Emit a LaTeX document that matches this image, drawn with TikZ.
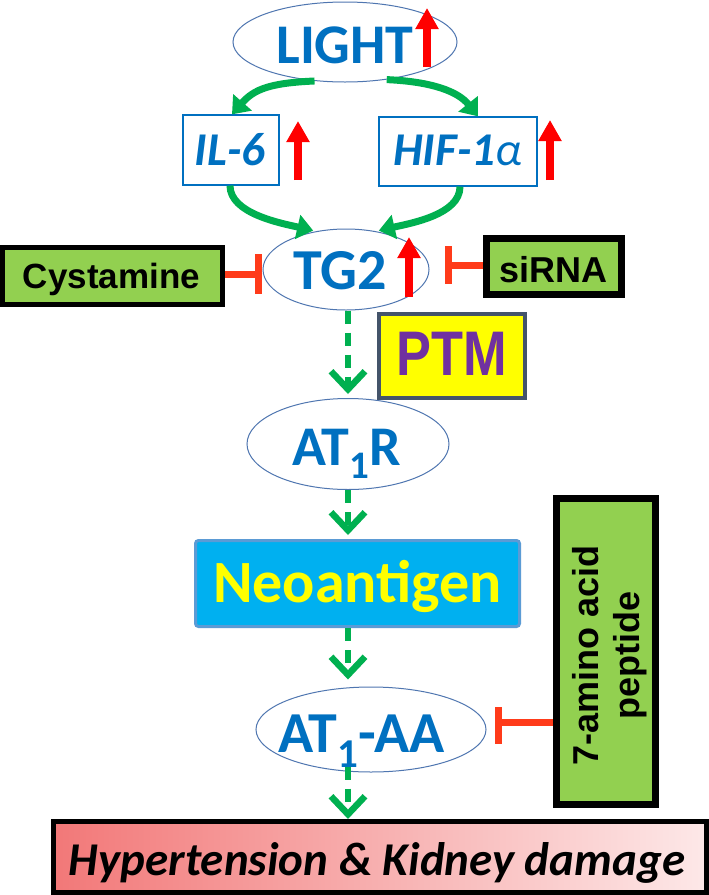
\documentclass[tikz,border=0pt]{standalone}
\usepackage{fontspec}
\newfontfamily\calfont{Carlito}
\newfontfamily\arfont{Liberation Sans}
\newfontfamily\arnfont[FakeStretch=0.83]{Liberation Sans}
\usetikzlibrary{arrows.meta,shapes.geometric,calc}
\definecolor{tblue}{HTML}{0070C0}
\definecolor{ellb}{HTML}{4F76B0}
\definecolor{gr}{HTML}{00B050}
\definecolor{lgreen}{HTML}{92D050}
\definecolor{inh}{HTML}{FF3B1A}
\definecolor{upred}{HTML}{FF0000}
\definecolor{ptmyel}{HTML}{FFFF00}
\definecolor{ptmbord}{HTML}{44546A}
\definecolor{ptmtext}{HTML}{7030A0}
\definecolor{neofill}{HTML}{00B0F0}
\definecolor{neobord}{HTML}{5B9BD5}
\definecolor{hypL}{HTML}{F27878}
\definecolor{hypR}{HTML}{FDE8E8}
\newcommand{\fsz}[1]{\fontsize{#1pt}{#1pt}\selectfont}
\begin{document}
\begin{tikzpicture}[x=1pt,y=-1pt,
  oval/.style={ellipse, draw=ellb, line width=1pt, fill=white, inner sep=0pt},
  txt/.style={inner sep=0pt, anchor=base},
  bluetxt/.style={txt, text=tblue, font=\calfont\bfseries},
  smallbox/.style={rectangle, draw=tblue, line width=1.3pt, fill=white, inner sep=0pt},
  greenbox/.style={rectangle, draw=black, fill=lgreen, inner sep=0pt},
  gcurve/.style={draw=gr, line width=7pt, -{Triangle[length=16pt,width=24pt]}},
  dasharrow/.style={draw=gr, line width=6pt, dash pattern=on 13pt off 9pt,
     -{Straight Barb[length=18pt,width=34pt,line width=6.5pt]}},
  inhib/.style={draw=inh, line width=7pt},
  inhbar/.style={draw=inh, line width=7pt},
  upar/.style={draw=upred, line width=8pt, -{Triangle[length=21pt,width=22pt]}}
]
\useasboundingbox (0,0) rectangle (709,895);
\fill[white] (0,0) rectangle (709,895);

% ---- shapes ----
\node[oval, minimum width=224pt, minimum height=80pt] (light) at (345,42) {};
\node[smallbox, minimum width=96pt, minimum height=70pt] (il6) at (231,150) {};
\node[smallbox, minimum width=158pt, minimum height=69pt] (hif) at (458,151.5) {};
\node[oval, minimum width=166pt, minimum height=81pt] (tg2) at (346,269.5) {};
\node[greenbox, line width=5pt, minimum width=220pt, minimum height=57pt] (cyst) at (112.5,276) {};
\node[greenbox, line width=7pt, minimum width=135pt, minimum height=56pt] (sirna) at (554,266.5) {};
\node[rectangle, draw=ptmbord, line width=4pt, fill=ptmyel, inner sep=0pt,
      minimum width=146pt, minimum height=84pt] (ptm) at (452,356) {};
\node[oval, minimum width=202pt, minimum height=91pt] (at1r) at (348,444) {};
\node[rectangle, draw=neobord, line width=3pt, fill=neofill, rounded corners=3pt, inner sep=0pt,
      minimum width=324pt, minimum height=86pt] (neo) at (357.5,583.5) {};
\node[greenbox, line width=7pt, minimum width=99pt, minimum height=306pt] (pep) at (606,651.5) {};
\node[oval, minimum width=230pt, minimum height=85pt] (at1aa) at (371,729.5) {};
\node[rectangle, draw=black, line width=5pt, left color=hypL, right color=hypR, inner sep=0pt,
      minimum width=653pt, minimum height=71pt] (hyp) at (380,857) {};

% ---- texts ----
\node[bluetxt, font=\calfont\bfseries\fsz{56}] (lightT) at (345,63) {LIGHT};
\node[bluetxt, font=\calfont\bfseries\itshape\fsz{47}] (il6T) at (230,165) {IL-6};
\node[bluetxt, font=\calfont\bfseries\itshape\fsz{47}] (hifT) at (457.5,165) {HIF-1{\mdseries α}};
\node[bluetxt, font=\calfont\bfseries\fsz{58}] (tg2T) at (340.5,289) {TG2};
\node[txt, font=\arfont\bfseries\fsz{35}] (cystT) at (111.5,288) {Cystamine};
\node[txt, font=\arfont\bfseries\fsz{36}] (sirnaT) at (553.5,282) {siRNA};
\node[txt, text=ptmtext, font=\arnfont\bfseries\fsz{63}] (ptmT) at (452,375) {PTM};
\node[bluetxt, font=\calfont\bfseries\fsz{56}] (at1rT) at (346.5,465) {AT\raisebox{-13pt}{\fsz{39}1}R};
\node[txt, text=ptmyel, font=\calfont\bfseries\fsz{60}] (neoT) at (357.5,602) {Neoantigen};
\node[bluetxt, font=\calfont\bfseries\fsz{58}] (at1aaT) at (361.5,752) {AT\raisebox{-15pt}{\fsz{41}1}-AA};
\node[inner sep=0pt, rotate=90, align=center, font=\arfont\bfseries\fontsize{36pt}{41pt}\selectfont]
      (pepT) at (610,655) {7-amino acid\\peptide};
\node[txt, font=\calfont\bfseries\itshape\fsz{47}] (hypT) at (377,875) {Hypertension \& Kidney damage};

% ---- green curved arrows ----
\draw[gcurve] (light.232) .. controls +(-45,2) and +(22,-25) .. ([xshift=1pt]il6.north);
\draw[gcurve] (light.318) .. controls +(45,2) and +(-20,-25) .. ([xshift=20pt]hif.north);
\draw[gcurve, shorten >=3pt] ([xshift=-1pt]il6.south) .. controls +(0,28) and +(-35,-8) .. (tg2.128);
\draw[gcurve, shorten >=3pt] ([xshift=2pt]hif.south) .. controls +(0,28) and +(35,-8) .. (tg2.52);

% ---- dashed arrows ----
\draw[dasharrow, shorten >=4pt] (tg2.south -| at1r.north) -- (at1r.north);
\draw[dasharrow, shorten >=4pt] (at1r.south) -- (at1r.south |- neo.north);
\draw[dasharrow, shorten >=7pt] (neo.south -| at1r.south) -- (at1aa.north -| at1r.south);
\draw[dasharrow] ([yshift=6pt]at1aa.south -| at1r.south) -- (hyp.north -| at1r.south);

% ---- inhibitors ----
\coordinate (cystBar) at (258,274);
\coordinate (sirnaBar) at (448,265);
\coordinate (pepBar) at (498,722);
\draw[inhib] (cyst.east |- cystBar) -- (cystBar);
\draw[inhbar] ([yshift=20pt]cystBar) -- ([yshift=-20pt]cystBar);
\draw[inhib] (sirna.west |- sirnaBar) -- (sirnaBar);
\draw[inhbar] ([yshift=19pt]sirnaBar) -- ([yshift=-19pt]sirnaBar);
\draw[inhib] (pep.west |- pepBar) -- (pepBar);
\draw[inhbar] ([yshift=15pt]pepBar) -- ([yshift=-22pt]pepBar);

% ---- red up arrows ----
\coordinate (lu0) at (427,67);  \coordinate (lu1) at (427,8);
\coordinate (iu0) at (298,180); \coordinate (iu1) at (298,121);
\coordinate (hu0) at (550,180); \coordinate (hu1) at (550,120);
\coordinate (tu0) at (409,297); \coordinate (tu1) at (409,237);
\draw[upar] (lu0) -- (lu1);
\draw[upar] (iu0) -- (iu1);
\draw[upar] (hu0) -- (hu1);
\draw[upar] (tu0) -- (tu1);
\end{tikzpicture}
\end{document}
